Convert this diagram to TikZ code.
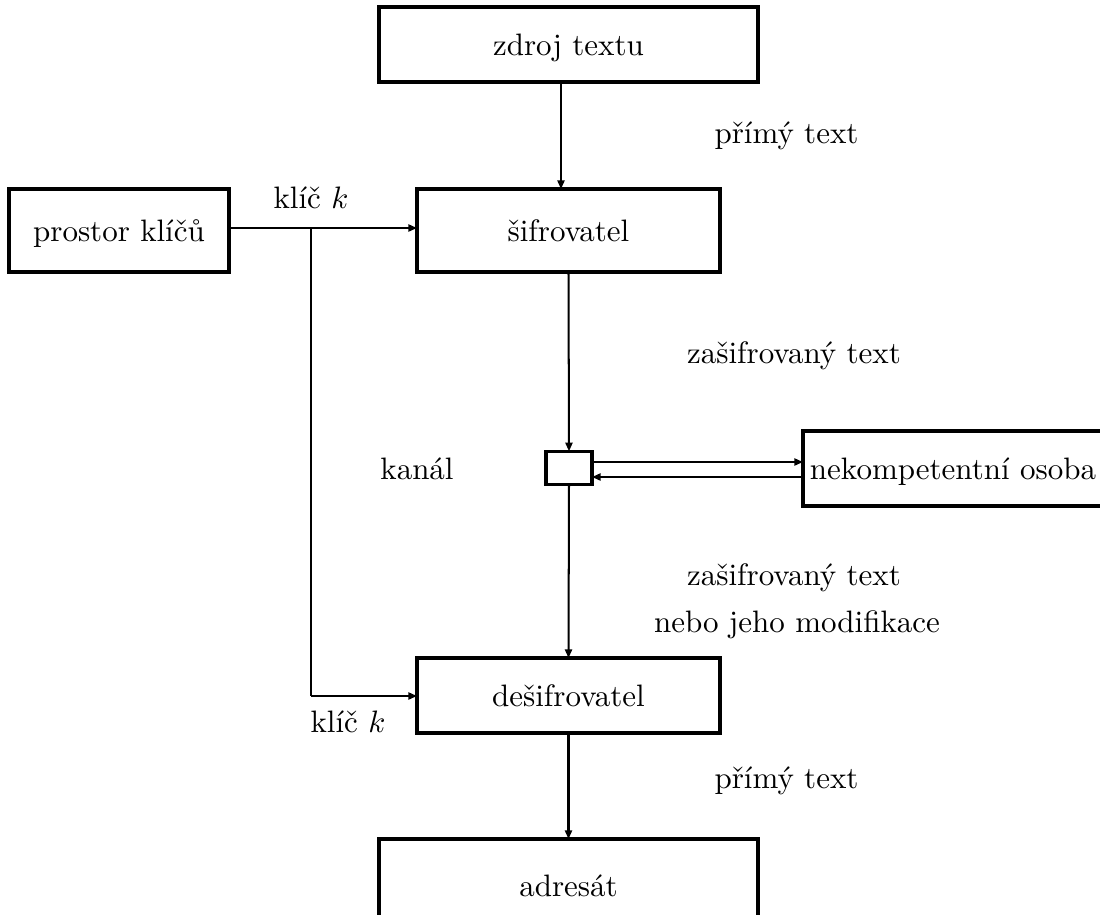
\documentclass[tikz,border=0pt]{standalone}
\usepackage{fontspec}
\usetikzlibrary{arrows.meta}
\def\pu{0.3226pt}
\tikzset{
  box/.style={draw, line width=1pt, inner sep=0pt, outer sep=0pt, text height=8.8pt, text depth=2pt, font=\fontsize{10}{12}\selectfont},
  arr/.style={line width=0.65pt, -{Triangle[length=2.8pt,width=2.3pt]}},
  plain/.style={line width=0.65pt},
  thinline/.style={line width=0.35pt},
  lbl/.style={anchor=base, inner sep=0pt, font=\fontsize{10}{12}\selectfont}
}
\begin{document}
\begin{tikzpicture}[x=0.3226pt, y=-0.3226pt]
\useasboundingbox (0,0) rectangle (1100,914);
\clip (0,0) rectangle (1100,914);
% boxes
\node[box, minimum width=379*\pu, minimum height=75*\pu] (zdroj) at (568.5,44.5) {zdroj textu};
\node[box, minimum width=220*\pu, minimum height=83*\pu] (prostor) at (119,230.5) {prostor klíčů};
\node[box, minimum width=303*\pu, minimum height=83*\pu] (sifr) at (568.5,230.5) {šifrovatel};
\node[box, minimum width=46*\pu, minimum height=30*\pu] (small) at (569,468) {};
\node[box, minimum width=300*\pu, minimum height=75*\pu] (nekomp) at (953,468.5) {nekompetentní osoba};
\node[box, minimum width=303*\pu, minimum height=75*\pu] (desif) at (568.5,695.5) {dešifrovatel};
\node[box, minimum width=379*\pu, minimum height=94*\pu] (adresat) at (568.5,886) {adresát};
% connectors
\draw[arr] ([xshift=-7.5*\pu]zdroj.south) -- ([xshift=-7.5*\pu]sifr.north);
\draw[arr] ([yshift=2.5*\pu]prostor.east) -- ([yshift=2.5*\pu]sifr.west);
\coordinate (br) at (311,228);
\coordinate (corner) at (311,696);
\draw[thinline] (br) -- (corner);
\draw[arr] (corner) -- (corner -| desif.west);
\draw[arr] (sifr.south) -- (small.north);
\draw[arr] (small.south) -- (desif.north);
\draw[arr] ([yshift=6*\pu]small.east) -- ([yshift=6*\pu]small.east -| nekomp.west);
\draw[arr] ([yshift=-9*\pu]small.east -| nekomp.west) -- ([yshift=-9*\pu]small.east);
\draw[arr] (desif.south) -- (adresat.north);
% labels
\node[lbl] (l1) at (786.5,143) {přímý text};
\node[lbl] (l2) at (311,208) {klíč $k$};
\node[lbl] (l3) at (794,363) {zašifrovaný text};
\node[lbl] (l4) at (417,479) {kanál};
\node[lbl] (l5) at (794,585) {zašifrovaný text};
\node[lbl] (l6) at (797,632) {nebo jeho modifikace};
\node[lbl] (l7) at (348,732) {klíč $k$};
\node[lbl] (l8) at (786.5,788) {přímý text};
\end{tikzpicture}
\end{document}
